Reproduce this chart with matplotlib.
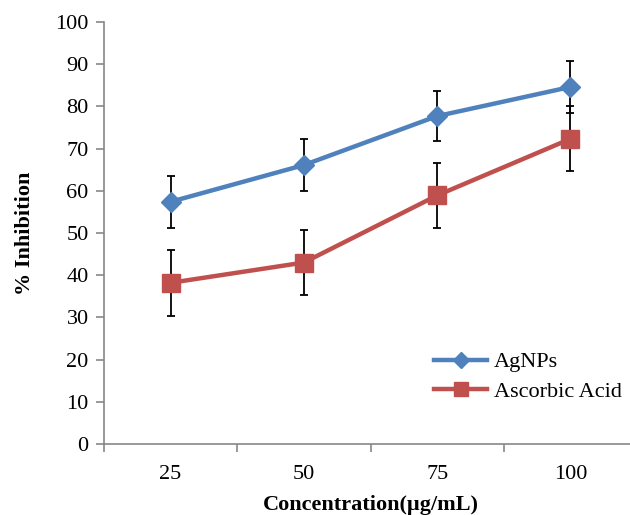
import matplotlib
matplotlib.use("Agg")
import matplotlib.pyplot as plt
import numpy as np

categories = ["25", "50", "75", "100"]
agnps = [57.4, 66.1, 77.7, 84.6]
agnps_err = [6.1, 6.1, 6.0, 6.1]
ascorbic = [38.2, 43.0, 58.9, 72.3]
ascorbic_err = [7.8, 7.7, 7.8, 7.7]

plt.rcParams['font.family'] = ['Liberation Serif', 'DejaVu Serif']

fig = plt.figure(figsize=(6.3, 5.15), dpi=100)
ax = fig.add_axes([104/630, 71/515, 533/630, 422/515])

x = np.arange(1, len(categories) + 1)
blue = "#4F81BD"
red = "#C0504D"

ax.errorbar(x, agnps, yerr=agnps_err, fmt='none', ecolor='black', elinewidth=1.3,
            capsize=3, capthick=1.3, zorder=2)
ax.errorbar(x, ascorbic, yerr=ascorbic_err, fmt='none', ecolor='black', elinewidth=1.3,
            capsize=3, capthick=1.3, zorder=2)
ax.plot(x, agnps, color=blue, lw=3.2, marker='D', ms=10.5, mec=blue, mfc=blue,
        label='AgNPs', zorder=3)
ax.plot(x, ascorbic, color=red, lw=3.2, marker='s', ms=13.5, mec=red, mfc=red,
        label='Ascorbic Acid', zorder=3)

ax.set_xlim(0.5, 4.5)
ax.set_ylim(0, 100)
ax.set_yticks(np.arange(0, 101, 10))
ax.set_xticks([0.5, 1.5, 2.5, 3.5, 4.5])
ax.set_xticklabels([])
ax.set_xticks(x, minor=True)
ax.set_xticklabels(categories, minor=True)
ax.tick_params(axis='x', which='minor', length=0, pad=15, labelsize=16)
ax.tick_params(axis='x', which='major', length=6, color='#878787', width=1.2)
ax.tick_params(axis='y', length=6, color='#878787', width=1.2, labelsize=16, pad=5)

for s in ['top', 'right']:
    ax.spines[s].set_visible(False)
for s in ['left', 'bottom']:
    ax.spines[s].set_color('#878787')
    ax.spines[s].set_linewidth(1.2)

ax.set_ylabel('% Inhibition', fontsize=16, fontweight='bold', labelpad=15)
ax.set_xlabel('Concentration(µg/mL)', fontsize=16, fontweight='bold', labelpad=8)

leg = ax.legend(loc='upper left', bbox_to_anchor=((425-104)/533, (444-343)/422),
                frameon=False, fontsize=16, handlelength=2.4, handletextpad=0.3,
                labelspacing=0.4, borderaxespad=0)
for h in leg.legend_handles:
    h.set_markersize(h.get_markersize() * 0.75)

fig.savefig('out.png', dpi=100)
